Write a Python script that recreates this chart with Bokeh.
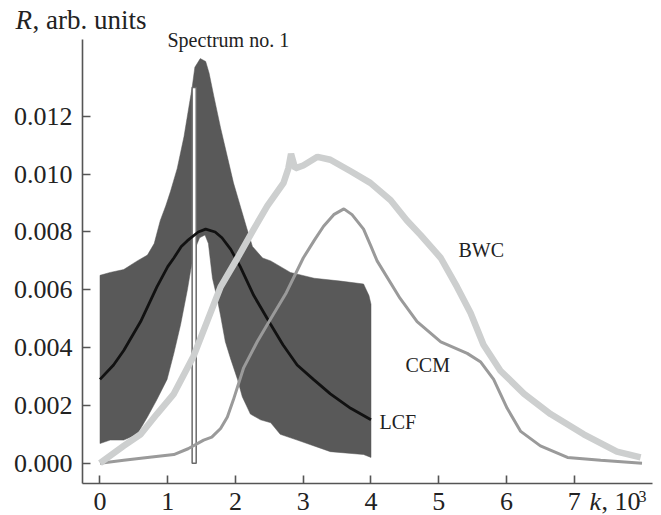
from bokeh.plotting import figure
from bokeh.models import Range1d, FixedTicker, Label, NumeralTickFormatter
from bokeh.embed import file_html
from bokeh.resources import INLINE

# ---- data (k in units of 10^3, R in arb. units) ----
spec_upper_k = [0, 0.15, 0.35, 0.55, 0.70, 0.80, 0.89, 0.97, 1.04, 1.14, 1.24, 1.31, 1.36,
                1.40, 1.48, 1.56, 1.61, 1.68, 1.78, 1.88, 1.97, 2.07, 2.17, 2.25, 2.40,
                2.52, 2.81, 3.16, 3.55, 3.89, 3.97, 4.0]
spec_upper = [0.0065, 0.0066, 0.0067, 0.0070, 0.0072, 0.0076, 0.0084, 0.0089, 0.0094, 0.0102,
              0.0113, 0.0123, 0.0130, 0.0137, 0.0140, 0.0139, 0.0135, 0.0127, 0.0116, 0.0106,
              0.0097, 0.0089, 0.0081, 0.0075, 0.0071, 0.0070, 0.0066, 0.0064, 0.0063, 0.0062,
              0.0058, 0.0055]
spec_lower_k = [0, 0.15, 0.35, 0.55, 0.70, 0.84, 0.99, 1.09, 1.19, 1.29, 1.34, 1.40, 1.47,
                1.55, 1.60, 1.66, 1.73, 1.78, 1.85, 1.93, 2.03, 2.10, 2.22, 2.37, 2.52,
                2.66, 2.91, 3.40, 3.89, 4.0]
spec_lower = [0.00068, 0.0008, 0.0008, 0.0010, 0.0016, 0.0022, 0.0029, 0.0038, 0.0048, 0.0060,
              0.0067, 0.0074, 0.0078, 0.0079, 0.0076, 0.0064, 0.0057, 0.0051, 0.0042, 0.0036,
              0.0029, 0.0023, 0.0017, 0.0015, 0.0014, 0.0010, 0.0008, 0.0004, 0.0003, 0.0002]
marker_k = [1.36, 1.42]
marker_top = 0.0130

lcf_k = [0, 0.2, 0.35, 0.6, 0.84, 1.0, 1.09, 1.2, 1.29, 1.45, 1.56, 1.70, 1.8, 1.93, 2.07,
         2.27, 2.52, 2.7, 2.91, 3.15, 3.40, 3.7, 4.0]
lcf = [0.0029, 0.0034, 0.0039, 0.0049, 0.0061, 0.0068, 0.0071, 0.0075, 0.0077, 0.0080, 0.0081,
       0.0080, 0.0078, 0.0074, 0.0068, 0.0058, 0.0048, 0.0041, 0.0034, 0.0029, 0.0024, 0.0019,
       0.0015]

ccm_k = [0, 0.35, 0.7, 1.09, 1.3, 1.53, 1.65, 1.78, 1.88, 1.97, 2.12, 2.32, 2.52, 2.75, 3.0,
         3.16, 3.3, 3.45, 3.60, 3.72, 3.89, 4.0, 4.09, 4.43, 4.68, 5.03, 5.42, 5.62, 5.81,
         6.01, 6.21, 6.50, 6.90, 7.39, 8.0]
ccm = [0.0000, 0.0001, 0.0002, 0.0003, 0.0005, 0.0008, 0.0009, 0.0012, 0.0016, 0.0022, 0.0033,
       0.0042, 0.0050, 0.0059, 0.0071, 0.0077, 0.0082, 0.0086, 0.0088, 0.0086, 0.0081, 0.0075,
       0.0070, 0.0057, 0.0049, 0.0042, 0.0038, 0.0035, 0.0029, 0.0019, 0.0011, 0.0006, 0.0002,
       0.0001, 0.0000]

bwc_k = [0, 0.35, 0.6, 0.84, 1.09, 1.38, 1.58, 1.78, 2.03, 2.27, 2.47, 2.71, 2.78, 2.82, 2.88,
         3.0, 3.21, 3.40, 3.70, 3.99, 4.29, 4.53, 4.73, 5.03, 5.27, 5.47, 5.66, 5.91, 6.26,
         6.65, 7.14, 7.63, 7.98]
bwc = [0.0000, 0.0006, 0.0010, 0.0017, 0.0024, 0.0037, 0.0049, 0.0061, 0.0071, 0.0081, 0.0089,
       0.0097, 0.0102, 0.0107, 0.0102, 0.0103, 0.0106, 0.0105, 0.0101, 0.0097, 0.0091, 0.0084,
       0.0079, 0.0071, 0.0061, 0.0052, 0.0041, 0.0032, 0.0024, 0.0017, 0.0010, 0.0004, 0.0002]

x_ticks = [0, 1, 2, 3, 4, 5, 6, 7]
x_tick_labels = ["0", "1", "2", "3", "4", "5", "6", "7"]
y_ticks = [0.0, 0.002, 0.004, 0.006, 0.008, 0.010, 0.012]
y_tick_labels = ["0.000", "0.002", "0.004", "0.006", "0.008", "0.010", "0.012"]

FONT = "Liberation Serif"

# axis extents (data units) and where the two axes cross
X_AXIS_SPAN = (-0.26, 8.15)
Y_AXIS_SPAN = (-0.00069, 0.01466)

p = figure(width=661, height=515, output_backend="svg", toolbar_location=None,
           x_range=Range1d(-1.4686, 8.2878), y_range=Range1d(-0.00181, 0.01601),
           min_border_left=0, min_border_right=0, min_border_top=0, min_border_bottom=0)
p.xgrid.visible = False
p.ygrid.visible = False
p.outline_line_color = None
p.background_fill_color = "white"
p.border_fill_color = "white"

# spectrum band
poly_x = spec_upper_k + spec_lower_k[::-1]
poly_y = spec_upper + spec_lower[::-1]
p.patch(poly_x, poly_y, fill_color="#595959", line_color="#595959", line_width=0.5)

# spectrum no. 1 marker
p.quad(left=[marker_k[0]], right=[marker_k[1]], bottom=[0], top=[marker_top],
       fill_color="white", line_color="#6a6a6a", line_width=1.5)

p.line(lcf_k, lcf, line_color="#111111", line_width=2.8)
p.line(ccm_k, ccm, line_color="#9a9a9a", line_width=3)
p.line(bwc_k, bwc, line_color="#cdcfcf", line_width=6.5)

# axes (drawn at fixed locations inside the canvas)
for ax in (p.xaxis[0], p.yaxis[0]):
    ax.axis_line_color = "#555555"
    ax.axis_line_width = 1.6
    ax.major_tick_line_color = "#555555"
    ax.major_tick_line_width = 1.6
    ax.major_tick_in = 8
    ax.major_tick_out = 0
    ax.minor_tick_line_color = None
    ax.major_label_text_font = FONT
    ax.major_label_text_font_size = "26px"
    ax.major_label_text_color = "#222222"

p.xaxis.fixed_location = Y_AXIS_SPAN[0]
p.xaxis.bounds = X_AXIS_SPAN
p.yaxis.fixed_location = X_AXIS_SPAN[0]
p.yaxis.bounds = Y_AXIS_SPAN

p.xaxis.ticker = FixedTicker(ticks=x_ticks)
p.xaxis.major_label_overrides = {t: s for t, s in zip(x_ticks, x_tick_labels)}
p.xaxis.major_label_standoff = 10
p.yaxis.ticker = FixedTicker(ticks=y_ticks)
p.yaxis.formatter = NumeralTickFormatter(format="0.000")
p.yaxis.major_label_overrides = {t: s for t, s in zip(y_ticks, y_tick_labels)}
p.yaxis.major_label_standoff = 10


def px_x(px):
    return (px - 99.5) / 67.75


def px_y(py):
    return (462.7 - py) / 28900.0


def lab(text, px, py, size, style="normal"):
    p.add_layout(Label(x=px_x(px), y=px_y(py), text=text, text_font=FONT,
                       text_font_size=size, text_font_style=style, text_color="#222222",
                       text_baseline="middle", text_align="left"))


lab("R", 15, 20, "27px", "italic")
lab(", arb. units", 32, 20, "27px")
lab("Spectrum no. 1", 167, 40, "20px")
lab("LCF", 379, 422, "20px")
lab("CCM", 405, 365, "20px")
lab("BWC", 458, 250, "20px")
lab("k", 589, 501, "26px", "italic")
lab(", 10", 601, 501, "26px")
lab("3", 638, 496, "16px")

open("out.html", "w").write(file_html(p, INLINE))
